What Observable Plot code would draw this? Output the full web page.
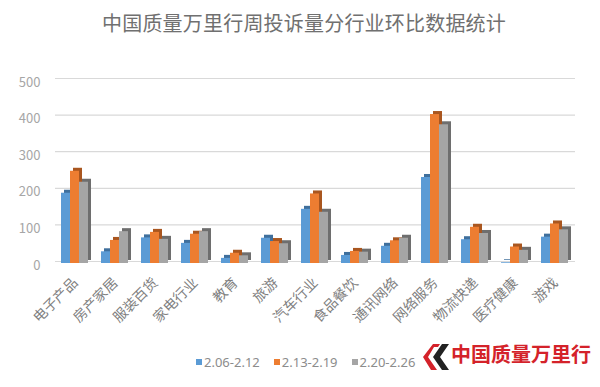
<!DOCTYPE html>
<html>
<head>
<meta charset="utf-8">
<script src="https://cdn.jsdelivr.net/npm/d3@7"></script>
<script src="https://cdn.jsdelivr.net/npm/@observablehq/plot@0.6"></script>
<style>
  html, body { margin: 0; padding: 0; background: #fff; }
  #wrap { position: relative; width: 600px; height: 387px; overflow: hidden; font-family: "Noto Sans CJK SC", "Noto Sans", sans-serif; }
  #title { position: absolute; left: 0; top: 8px; width: 608px; text-align: center; font-size: 20px; color: #707070; letter-spacing: 0.2px; }
  #chart { position: absolute; left: 0; top: 0; }
  #legend { position: absolute; left: 196px; top: 353px; font-size: 13px; color: #8c8c8c; white-space: nowrap; font-family: "Noto Sans", "Noto Sans CJK SC", sans-serif; }
  #legend span.item { margin-right: 14px; }
  #legend span.sw { display: inline-block; width: 6px; height: 6px; margin-right: 2px; vertical-align: 2px; }
  #logo { position: absolute; left: 423px; top: 343px; }
  #logotext { position: absolute; left: 451px; top: 339px; font-size: 20px; font-weight: 700; color: #d4222a; letter-spacing: 0px; white-space: nowrap; }
  g[aria-label="y-axis tick label"] { fill: #a6a6a6; }
  g[aria-label="fx-axis tick label"] { fill: #7f7f7f; }
</style>
</head>
<body>
<div id="wrap">
  <div id="chart"></div>
  <div id="title"></div>
  <div id="legend"></div>
  <svg id="logo" width="27" height="28" viewBox="0 0 27 28">
    <polygon points="10,14 19,1 26,1 17,14 26,27 19,27" fill="#222"/>
    <polygon points="0,14 10,1 17,1 15,4 11,4 5,14 14,27 8,27" fill="#d4222a"/>
  </svg>
  <div id="logotext">中国质量万里行</div>
</div>
<script>
const titleText = "中国质量万里行周投诉量分行业环比数据统计";
const categories = ["电子产品","房产家居","服装百货","家电行业","教育","旅游","汽车行业","食品餐饮","通讯网络","网络服务","物流快递","医疗健康","游戏"];
const seriesNames = ["2.06-2.12","2.13-2.19","2.20-2.26"];
const week1 = [192, 32, 70, 55, 14, 69, 148, 22, 47, 235, 65, 2, 72];
const week2 = [252, 63, 85, 80, 28, 60, 190, 33, 62, 407, 99, 45, 108];
const week3 = [222, 87, 66, 87, 21, 54, 140, 31, 69, 379, 82, 36, 92];
const yTicks = [0, 100, 200, 300, 400, 500];
const frontColors = ["#5B9BD5", "#ED7D31", "#A5A5A5"];
const sideColors = ["#3F6F9C", "#A9561F", "#6E6E6E"];

const seriesValues = [week1, week2, week3];
const data = [];
categories.forEach((c, i) => {
  seriesNames.forEach((s, j) => data.push({cat: c, s, v: seriesValues[j][i], j}));
});

document.getElementById("title").textContent = titleText;
const legend = document.getElementById("legend");
seriesNames.forEach((s, j) => {
  const it = document.createElement("span");
  it.className = "item";
  it.innerHTML = `<span class="sw" style="background:${frontColors[j]}"></span>${s}`;
  legend.appendChild(it);
});

const chart = Plot.plot({
  width: 600,
  height: 345,
  marginLeft: 52,
  marginRight: 23,
  marginTop: 78,
  marginBottom: 84,
  style: {fontFamily: '"Noto Sans CJK SC", "Noto Sans", sans-serif', fontSize: "13px", background: "transparent"},
  fx: {domain: categories, padding: 0, label: null},
  x: {domain: seriesNames, paddingInner: 0, paddingOuter: 0.6, align: 0.45, axis: null},
  y: {domain: [0, 500]},
  marks: [
    Plot.ruleY(yTicks, {stroke: "#d9d9d9", strokeWidth: 1.2}),
    Plot.barY(data, {fx: "cat", x: "s", y: "v", fill: d => sideColors[d.j], dx: 3, dy: -1}),
    Plot.barY(data, {fx: "cat", x: "s", y: "v", fill: d => frontColors[d.j], dy: 2}),
    Plot.axisY(yTicks, {tickSize: 0, tickPadding: 15, dy: 4, fontSize: 13, label: null}),
    Plot.axisFx({anchor: "bottom", tickRotate: -45, tickSize: 0, tickPadding: 19, fontSize: 14, label: null})
  ]
});
document.getElementById("chart").appendChild(chart);
</script>
</body>
</html>
